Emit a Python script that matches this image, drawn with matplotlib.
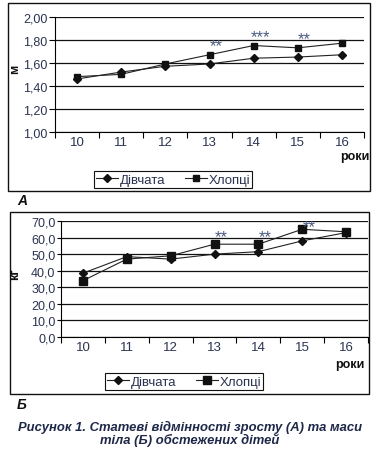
import matplotlib
matplotlib.use("Agg")
import matplotlib.pyplot as plt
from matplotlib.patches import Rectangle

plt.rcParams['font.family'] = ['Liberation Sans', 'DejaVu Sans']

ages = ['10', '11', '12', '13', '14', '15', '16']

height_girls = [1.46, 1.52, 1.57, 1.59, 1.64, 1.65, 1.67]
height_boys = [1.48, 1.50, 1.59, 1.67, 1.75, 1.73, 1.77]
height_ticks = [1.00, 1.20, 1.40, 1.60, 1.80, 2.00]
height_stars = {3: ('**', 1.75), 4: ('***', 1.83), 5: ('**', 1.81)}

weight_girls = [38.5, 48.5, 47.0, 50.0, 51.5, 58.0, 63.0]
weight_boys = [34.0, 47.0, 49.0, 56.0, 56.0, 65.0, 63.5]
weight_ticks = [0, 10, 20, 30, 40, 50, 60, 70]
weight_stars = {3: ('**', 60.6), 4: ('**', 60.6), 5: ('**', 66.7)}

W, H = 376, 452
txt = '#2b3350'
cap_col = '#1e2848'

fig = plt.figure(figsize=(W / 100, H / 100), dpi=100)


def box(x0, y0, x1, y1):
    return [x0 / W, 1 - y1 / H, (x1 - x0) / W, (y1 - y0) / H]


def panel(rect, girls, boys, ticks, fmt, ylabel, lab_x, stars, ms_sq, ytick_len):
    ax = fig.add_axes(box(*rect))
    x = list(range(len(ages)))
    ax.plot(x, girls, color='#222222', lw=0.8, marker='D', ms=4,
            mfc='#111111', mec='#111111', label='Дівчата', zorder=3)
    ax.plot(x, boys, color='#222222', lw=0.8, marker='s', ms=ms_sq,
            mfc='#111111', mec='#111111', label='Хлопці', zorder=3)
    ax.set_xlim(-0.5, len(ages) - 0.5)
    ax.set_ylim(ticks[0], ticks[-1])
    ax.set_yticks(ticks)
    ax.set_yticklabels([fmt.format(t).replace('.', ',') for t in ticks])
    ax.set_xticks(x)
    ax.set_xticklabels(ages)
    ax.set_xticks([i - 0.5 for i in range(len(ages) + 1)], minor=True)
    ax.tick_params(axis='x', which='major', length=0, pad=3, labelsize=9.5, labelcolor=txt)
    ax.tick_params(axis='x', which='minor', length=4, width=0.8, direction='out')
    ax.tick_params(axis='y', length=ytick_len, width=0.8, direction='out', labelsize=9,
                   labelcolor=txt, pad=1)
    ax.grid(axis='y', color='#111111', lw=0.9)
    ax.set_axisbelow(True)
    for s in ['top', 'right']:
        ax.spines[s].set_visible(False)
    for s in ['left', 'bottom']:
        ax.spines[s].set_linewidth(0.8)
    ax.set_ylabel(ylabel, fontsize=9, fontweight='bold', color='#111111')
    x0 = rect[0]
    ax.yaxis.set_label_coords((lab_x - x0) / (rect[2] - x0), 0.55)
    for i, (s, yv) in stars.items():
        ax.text(i + 0.15, yv, s, ha='center', va='center', fontsize=12, color='#4a5a80')
    return ax


ax1 = panel((55, 17.7, 364, 133), height_girls, height_boys, height_ticks,
            '{:.2f}', 'м', 21, height_stars, 5, 4.5)
ax2 = panel((61, 222, 368, 338), weight_girls, weight_boys, weight_ticks,
            '{:.1f}', 'кг', 21, weight_stars, 5.5, 3)

for ax, lx, ly, rx, ry in [(ax1, 173, 180.5, 355, 157), (ax2, 184, 382.5, 350, 365)]:
    h, l = ax.get_legend_handles_labels()
    leg = fig.legend(h, l, loc='center', bbox_to_anchor=(lx / W, 1 - ly / H), ncol=2,
                     fancybox=False, edgecolor='#111111', fontsize=9.5, handlelength=1.7,
                     handletextpad=0.1, columnspacing=1.5, borderpad=0.15,
                     labelcolor=txt, framealpha=1)
    leg.get_frame().set_linewidth(0.8)
    fig.text(rx / W, 1 - ry / H, 'роки', ha='center', va='center', fontsize=9,
             fontweight='bold', color='#111111')

for x0, y0, x1, y1 in [(8, 4, 370, 192), (10, 213, 369, 395)]:
    fig.add_artist(Rectangle((x0 / W, 1 - y1 / H), (x1 - x0) / W, (y1 - y0) / H,
                             transform=fig.transFigure, fill=False, lw=1.0,
                             ec='#111111'))

fig.text(22 / W, 1 - 201 / H, 'А', ha='center', va='center', fontsize=10,
         fontweight='bold', style='italic', color='#111111')
fig.text(22 / W, 1 - 405 / H, 'Б', ha='center', va='center', fontsize=10,
         fontweight='bold', style='italic', color='#111111')
fig.text(190 / W, 1 - 427 / H, 'Рисунок 1. Статеві відмінності зросту (А) та маси',
         ha='center', va='center', fontsize=9.4, fontweight='bold', style='italic',
         color=cap_col)
fig.text(190 / W, 1 - 440 / H, 'тіла (Б) обстежених дітей',
         ha='center', va='center', fontsize=9.4, fontweight='bold', style='italic',
         color=cap_col)

fig.savefig('out.png', dpi=100)
